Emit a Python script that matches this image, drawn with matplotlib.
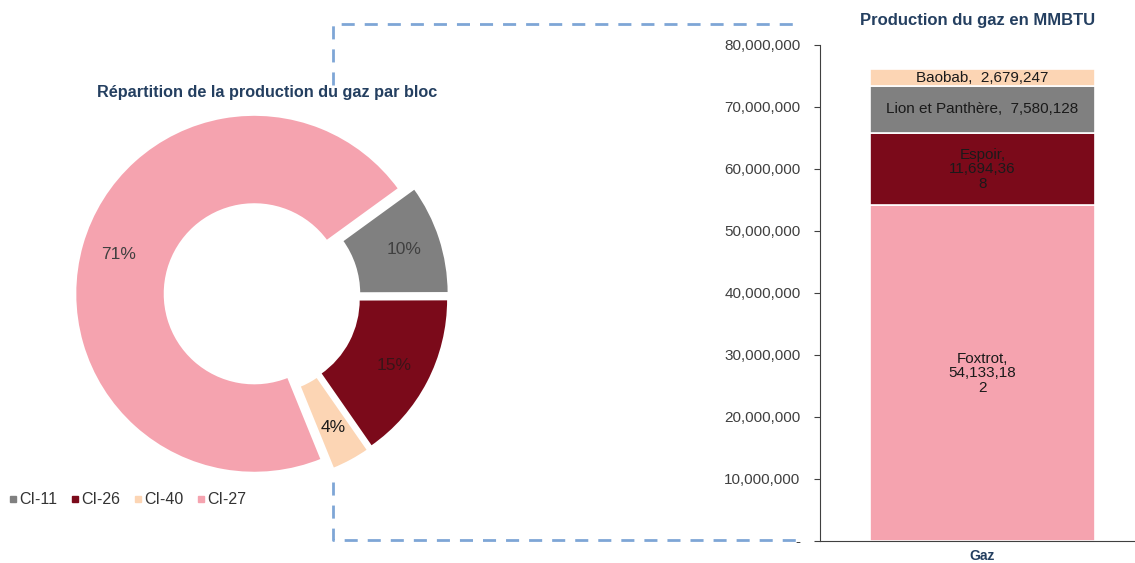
import matplotlib
matplotlib.use("Agg")
import matplotlib.pyplot as plt
from matplotlib.lines import Line2D
from matplotlib.ticker import FuncFormatter

plt.rcParams['font.family'] = ['Liberation Sans', 'DejaVu Sans']

# donnees
blocs = ['CI-11', 'CI-26', 'CI-40', 'CI-27']
champs = ['Lion et Panthère', 'Espoir', 'Baobab', 'Foxtrot']
volumes = [7580128, 11694368, 2679247, 54133182]
couleurs = ['#808080', '#7B0A1A', '#FCD5B4', '#F5A3AF']
pct_couleurs = ['#404040', '#3A1418', '#1A1A1A', '#404040']

# ordre d'empilement dans la barre (du bas vers le haut)
ordre_barre = [3, 1, 0, 2]
coupe = [True, True, False, False]  # etiquettes coupees sur 3 lignes

bleu_titre = '#243F60'
bleu_tirets = '#7EA6D6'

W, H = 1135, 563
fig = plt.figure(figsize=(W / 100, H / 100), dpi=100)

# --- doughnut ---
R = 179
cx, cy = 262, H - 296
lim = 1.25
ax1 = fig.add_axes([(cx - lim * R) / W, (cy - lim * R) / H, 2 * lim * R / W, 2 * lim * R / H])
wedges, textes, pcts = ax1.pie(volumes, colors=couleurs, startangle=36, counterclock=False,
                               explode=[0.045] * 4, autopct='%1.0f%%', pctdistance=0.79,
                               wedgeprops=dict(width=0.5, edgecolor='white', linewidth=1.5),
                               textprops=dict(fontsize=12.5))
for t, c in zip(pcts, pct_couleurs):
    t.set_color(c)
ax1.set_xlim(-lim, lim)
ax1.set_ylim(-lim, lim)
ax1.set_aspect('equal')
ax1.axis('off')

fig.text(267 / W, 1 - 93 / H, 'Répartition de la production du gaz par bloc',
         ha='center', va='center', fontsize=11.7, fontweight='bold', color=bleu_titre)

handles = [Line2D([], [], marker='s', linestyle='none', markersize=5, color=c) for c in couleurs]
fig.legend(handles, blocs, loc='center left', bbox_to_anchor=(-6 / W, 1 - 500 / H), ncol=4,
           frameon=False, fontsize=11.5, handlelength=0.6, handletextpad=0.1, columnspacing=0.8,
           labelcolor='#333333')

# --- barre empilee ---
ax2 = fig.add_axes([820 / W, 22 / H, 315 / W, 496 / H])
bas = 0
for i in ordre_barre:
    cont = ax2.bar(0, volumes[i], bottom=bas, width=1.0, color=couleurs[i],
                   edgecolor='white', linewidth=1.2)
    s = f'{volumes[i]:,}'
    if coupe[ordre_barre.index(i)]:
        lab = f'{champs[i]},\n{s[:-1]}\n{s[-1]}'
    else:
        lab = f'{champs[i]},  {s}'
    ax2.bar_label(cont, labels=[lab], label_type='center', fontsize=11, color='#1A1A1A',
                  linespacing=1.05)
    bas += volumes[i]

ax2.set_xlim(-0.722, 0.678)
ax2.set_ylim(0, 80000000)
ax2.set_yticks(range(0, 80000001, 10000000))
ax2.yaxis.set_major_formatter(FuncFormatter(lambda v, p: '-' if v == 0 else f'{int(v):,}'))
ax2.tick_params(axis='y', direction='out', length=4, pad=10, labelsize=11,
                labelcolor='#404040', color='#404040')
ax2.set_xticks([0])
ax2.set_xticklabels(['Gaz'], fontweight='bold', color=bleu_titre, fontsize=10)
ax2.tick_params(axis='x', length=0, pad=6)
for s in ['top', 'right']:
    ax2.spines[s].set_visible(False)
for s in ['left', 'bottom']:
    ax2.spines[s].set_color('#404040')
ax2.set_title('Production du gaz en MMBTU', fontsize=12, fontweight='bold', color=bleu_titre,
              pad=0, y=(563 - 20 - 22) / 496, va='center')

# --- traits de liaison en tirets ---
def tiret(xs, ys):
    fig.add_artist(Line2D([x / W for x in xs], [1 - y / H for y in ys], transform=fig.transFigure,
                          color=bleu_tirets, lw=2, linestyle=(0, (4.7, 3.6))))

tiret([333, 333, 795], [85, 24, 24])
tiret([333, 333, 800], [482, 540, 540])

fig.savefig('out.png', dpi=100)
